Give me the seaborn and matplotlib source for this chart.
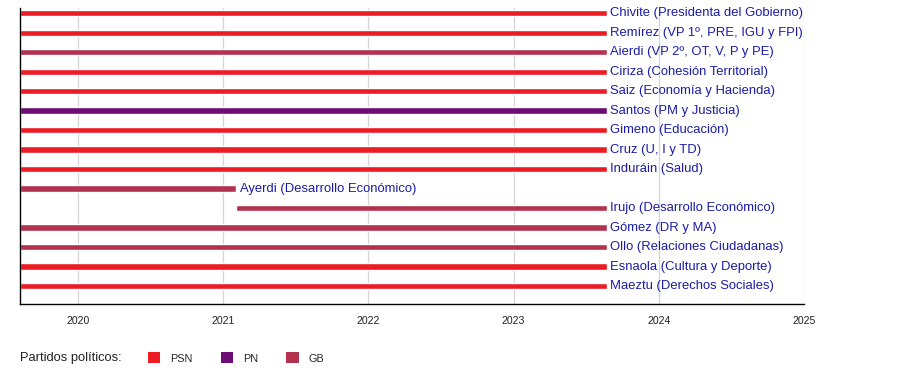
import matplotlib
matplotlib.use("Agg")
import matplotlib.pyplot as plt
import seaborn as sns
import pandas as pd
from matplotlib.patches import Patch

# ---------------------------------------------------
# DATA
# ---------------------------------------------------

names = [
    "Chivite (Presidenta del Gobierno)",
    "Remírez (VP 1º, PRE, IGU y FPI)",
    "Aierdi (VP 2º, OT, V, P y PE)",
    "Ciriza (Cohesión Territorial)",
    "Saiz (Economía y Hacienda)",
    "Santos (PM y Justicia)",
    "Gimeno (Educación)",
    "Cruz (U, I y TD)",
    "Induráin (Salud)",
    "Ayerdi (Desarrollo Económico)",
    "Irujo (Desarrollo Económico)",
    "Gómez (DR y MA)",
    "Ollo (Relaciones Ciudadanas)",
    "Esnaola (Cultura y Deporte)",
    "Maeztu (Derechos Sociales)",
]
parties = ["PSN", "PSN", "GB", "PSN", "PSN", "PN", "PSN", "PSN", "PSN",
           "GB", "GB", "GB", "GB", "PSN", "PSN"]
# decimal years (gobierno: ago 2019 - ago 2023, relevo de Ayerdi en feb 2021)
start = [2019.6] * 9 + [2019.6, 2021.09] + [2019.6] * 4
end = [2023.64] * 9 + [2021.09, 2023.64] + [2023.64] * 4

party_names = ["PSN", "PN", "GB"]
party_colors = {"PSN": "#ED1C24", "PN": "#6B0D74", "GB": "#B3334F"}
years = [2020, 2021, 2022, 2023, 2024, 2025]

df = pd.DataFrame({"name": names, "party": parties, "start": start, "end": end})
df["row"] = range(len(df))
df["length"] = df["end"] - df["start"]

# ---------------------------------------------------
# PLOT
# ---------------------------------------------------

sns.set_style("white")
plt.rcParams["font.family"] = ["Liberation Sans", "DejaVu Sans"]

fig = plt.figure(figsize=(9, 3.84), dpi=100)
ax = fig.add_axes([20 / 900, 1 - 304 / 384, (804 - 20) / 900, (304 - 8) / 384])

for year in years:
    ax.axvline(year, color="#d4d4d4", lw=0.9, zorder=0)

ax.barh(df["row"], df["length"], left=df["start"], height=0.33,
        color=[party_colors[p] for p in df["party"]], zorder=2)

for _, r in df.iterrows():
    ax.text(r["end"] + 0.025, r["row"], r["name"], color="#1C1CA8",
            fontsize=9.4, va="center", ha="left", zorder=3)

ax.set_xlim(2019.6, 2025)
ax.set_ylim(14.92, -0.27)
ax.set_yticks([])
ax.set_xticks(years)
ax.set_xticklabels([str(y) for y in years], fontsize=7.6, color="#222222")
ax.tick_params(axis="x", length=4, width=0.8, color="black", pad=5)
sns.despine(ax=ax, top=True, right=True)
ax.spines["left"].set_color("black")
ax.spines["bottom"].set_color("black")
ax.spines["left"].set_linewidth(1.0)
ax.spines["bottom"].set_linewidth(1.0)

# ---------------------------------------------------
# LEGEND
# ---------------------------------------------------

fig.text(20 / 900, 1 - 358 / 384, "Partidos políticos:", fontsize=9.3,
         va="center", ha="left", color="#222222")
handles = [Patch(facecolor=party_colors[p], edgecolor="none", label=p) for p in party_names]
fig.legend(handles=handles, loc="center left", bbox_to_anchor=(148 / 900, 1 - 358 / 384),
           ncol=3, frameon=False, fontsize=7.8, handlelength=1.15, handleheight=1.15,
           handletextpad=0.9, columnspacing=2.6, borderpad=0, borderaxespad=0)

fig.savefig("out.png", dpi=100)
